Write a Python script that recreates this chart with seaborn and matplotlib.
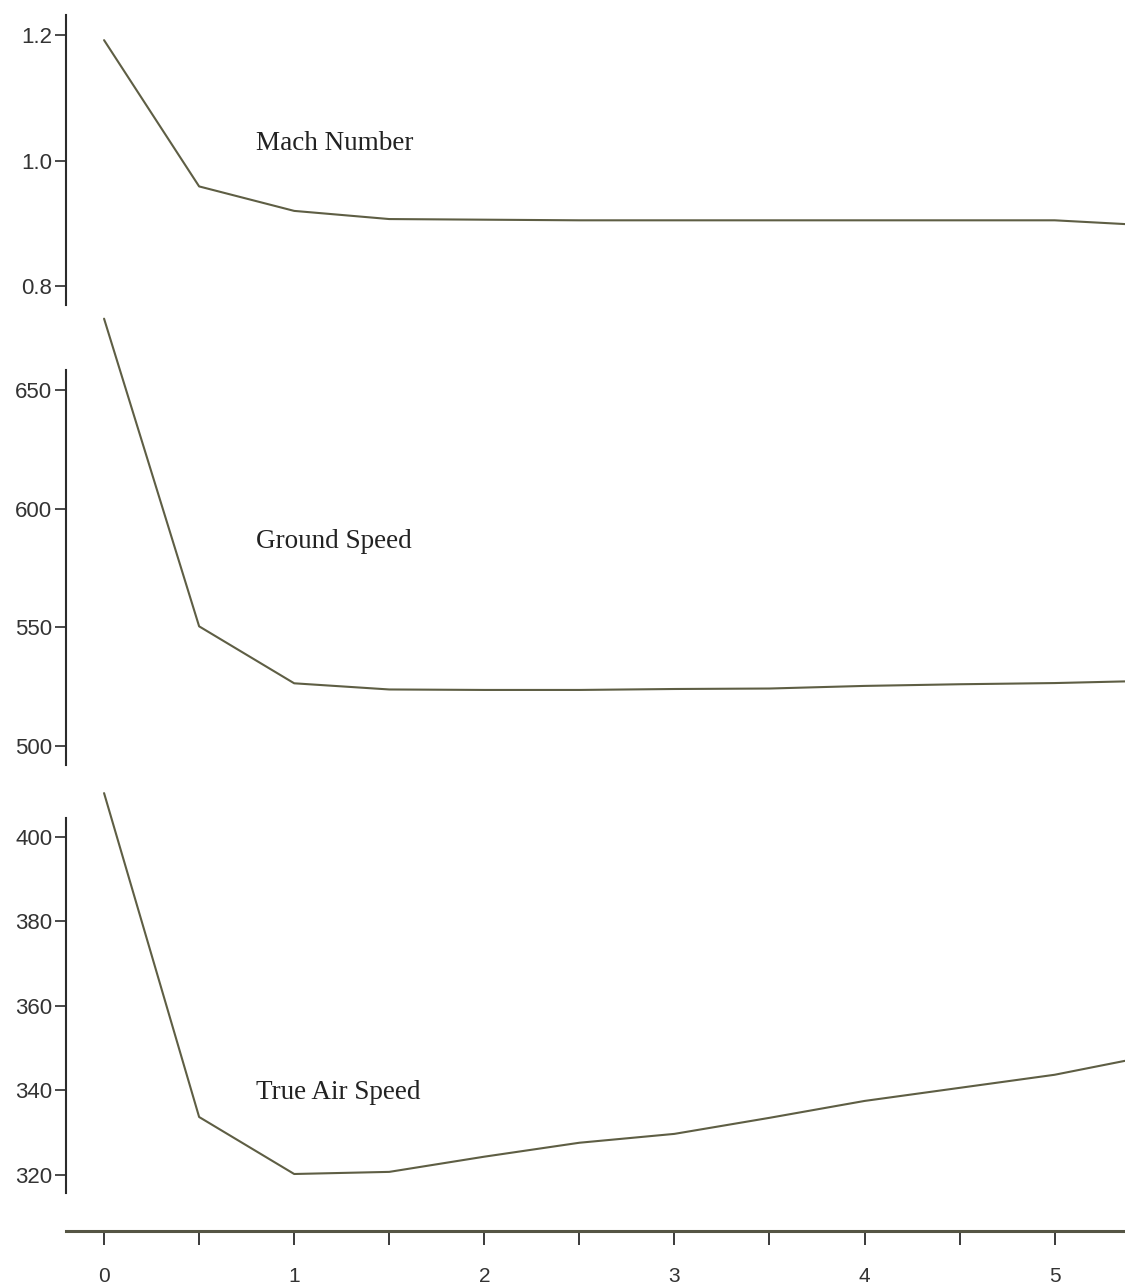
import seaborn as sns
import pandas as pd
import matplotlib.pyplot as plt
from matplotlib.ticker import MultipleLocator

sns.set_style("white")
plt.rcParams['font.family'] = ['Liberation Sans Narrow', 'Liberation Sans', 'DejaVu Sans']

hours = [0, 0.5, 1, 1.5, 2, 2.5, 3, 3.5, 4, 4.5, 5, 5.37]
mach = [1.192, 0.959, 0.920, 0.907, 0.906, 0.905, 0.905, 0.905, 0.905, 0.905, 0.905, 0.899]
ground_speed = [680, 550.4, 526.4, 523.8, 523.6, 523.6, 524.0, 524.2, 525.3, 526.0, 526.5, 527.2]
true_air_speed = [410.4, 333.7, 320.2, 320.7, 324.3, 327.6, 329.7, 333.5, 337.5, 340.6, 343.7, 347.0]

mach_ticks = [0.8, 1.0, 1.2]
ground_ticks = [500, 550, 600, 650]
tas_ticks = [320, 340, 360, 380, 400]

line_col = "#5e5e44"
axis_col = "#2b2b2b"
xlim = (-0.2, 5.37)

fig = plt.figure(figsize=(11.25, 12.85), dpi=100)

# [left, bottom, width, height] for each panel
panels = [
    (mach, (0.770, 1.232), mach_ticks, "{:.1f}", "Mach Number", 1.028, [0.0587, 0.7626, 0.9413, 0.2257]),
    (ground_speed, (492.0, 658.4), ground_ticks, "{:.0f}", "Ground Speed", 586, [0.0587, 0.4047, 0.9413, 0.3074]),
    (true_air_speed, (315.7, 404.5), tas_ticks, "{:.0f}", "True Air Speed", 339.4, [0.0587, 0.0716, 0.9413, 0.2918]),
]

for vals, ylim, ticks, fmt, label, label_y, pos in panels:
    ax = fig.add_axes(pos)
    df = pd.DataFrame({"hours": hours, "value": vals})
    sns.lineplot(data=df, x="hours", y="value", ax=ax, color=line_col,
                 linewidth=1.5, clip_on=False)
    ax.set_xlim(*xlim)
    ax.set_ylim(*ylim)
    ax.set_yticks(ticks)
    ax.set_yticklabels([fmt.format(t) for t in ticks])
    ax.set_xticks([])
    ax.set_xlabel("")
    ax.set_ylabel("")
    for s in ["top", "right", "bottom"]:
        ax.spines[s].set_visible(False)
    ax.spines["left"].set_color(axis_col)
    ax.spines["left"].set_linewidth(1.5)
    ax.tick_params(axis="y", direction="out", length=8, width=1.2, color=axis_col,
                   labelsize=16, labelcolor="#333333", pad=2, left=True)
    ax.text(0.8, label_y, label, fontsize=19.5, family="Liberation Serif",
            color="#222222", ha="left", va="center")
    ax.patch.set_alpha(0)

# shared x axis drawn on its own
axx = fig.add_axes([0.0587, 0.042, 0.9413, 0.0005])
axx.set_xlim(*xlim)
axx.set_yticks([])
for s in ["top", "right", "left"]:
    axx.spines[s].set_visible(False)
axx.spines["bottom"].set_color("#555544")
axx.spines["bottom"].set_linewidth(2.2)
axx.xaxis.set_major_locator(MultipleLocator(1))
axx.xaxis.set_minor_locator(MultipleLocator(0.5))
axx.tick_params(axis="x", which="both", direction="out", length=10, width=1.3,
                color=axis_col, labelsize=15, labelcolor="#333333", pad=16, bottom=True)
axx.patch.set_alpha(0)

fig.savefig("out.png", dpi=100)
